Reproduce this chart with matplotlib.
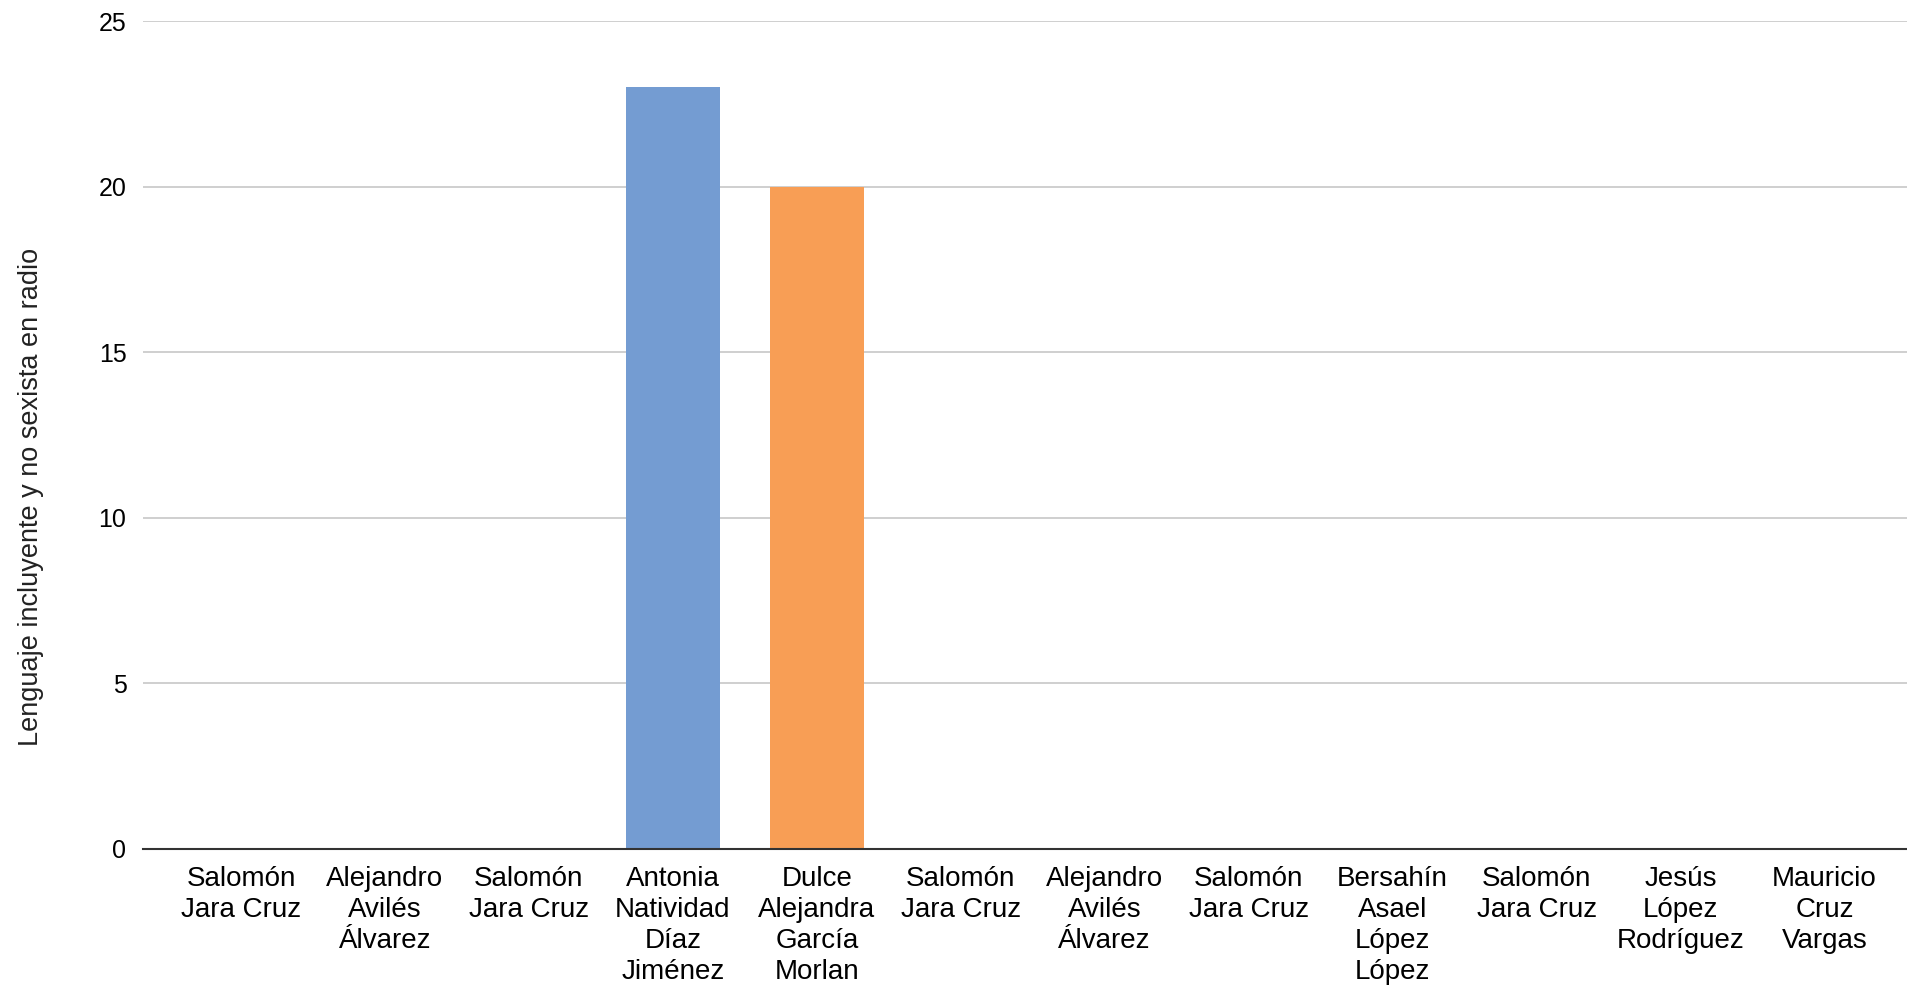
import matplotlib.pyplot as plt

# -------------------------------------------------------
# Données
# -------------------------------------------------------

candidatos = [
    "Salomón\nJara Cruz",
    "Alejandro\nAvilés\nÁlvarez",
    "Salomón\nJara Cruz",
    "Antonia\nNatividad\nDíaz\nJiménez",
    "Dulce\nAlejandra\nGarcía\nMorlan",
    "Salomón\nJara Cruz",
    "Alejandro\nAvilés\nÁlvarez",
    "Salomón\nJara Cruz",
    "Bersahín\nAsael\nLópez\nLópez",
    "Salomón\nJara Cruz",
    "Jesús\nLópez\nRodríguez",
    "Mauricio\nCruz\nVargas",
]
valores = [0, 0, 0, 23, 20, 0, 0, 0, 0, 0, 0, 0]
colores = ["#749cd2"] * 4 + ["#f89e55"] + ["#749cd2"] * 7

y_ticks = [0, 5, 10, 15, 20, 25]
y_label = "Lenguaje incluyente y no sexista en radio"

# -------------------------------------------------------
# Graphique
# -------------------------------------------------------

plt.rcParams["font.family"] = ["Liberation Sans", "DejaVu Sans"]

fig = plt.figure(figsize=(19.08, 9.88), dpi=100)
ax = fig.add_axes([0.075, 0.1407, 0.925, 0.838])

x = list(range(len(candidatos)))

ax.bar(x, valores, width=0.65, color=colores, linewidth=0, zorder=3)

ax.set_xlim(-0.68, 11.58)
ax.set_ylim(0, 25)

ax.set_yticks(y_ticks)
ax.set_yticklabels([str(t) for t in y_ticks], fontsize=18)
ax.set_xticks(x)
ax.set_xticklabels(candidatos, fontsize=20, linespacing=1.26, va="top")

ax.tick_params(axis="y", length=0, pad=12)
ax.tick_params(axis="x", length=0, pad=12)

ax.grid(axis="y", color="#cccccc", linewidth=1.3, zorder=0)
ax.set_axisbelow(True)

for side in ["left", "right", "top"]:
    ax.spines[side].set_visible(False)
ax.spines["bottom"].set_color("#333333")
ax.spines["bottom"].set_linewidth(1.5)
ax.spines["bottom"].set_zorder(4)

fig.text(0.0165, 0.497, y_label, rotation=90, fontsize=19.5,
         ha="center", va="center", color="#222222")

plt.savefig("out.png", dpi=100)
